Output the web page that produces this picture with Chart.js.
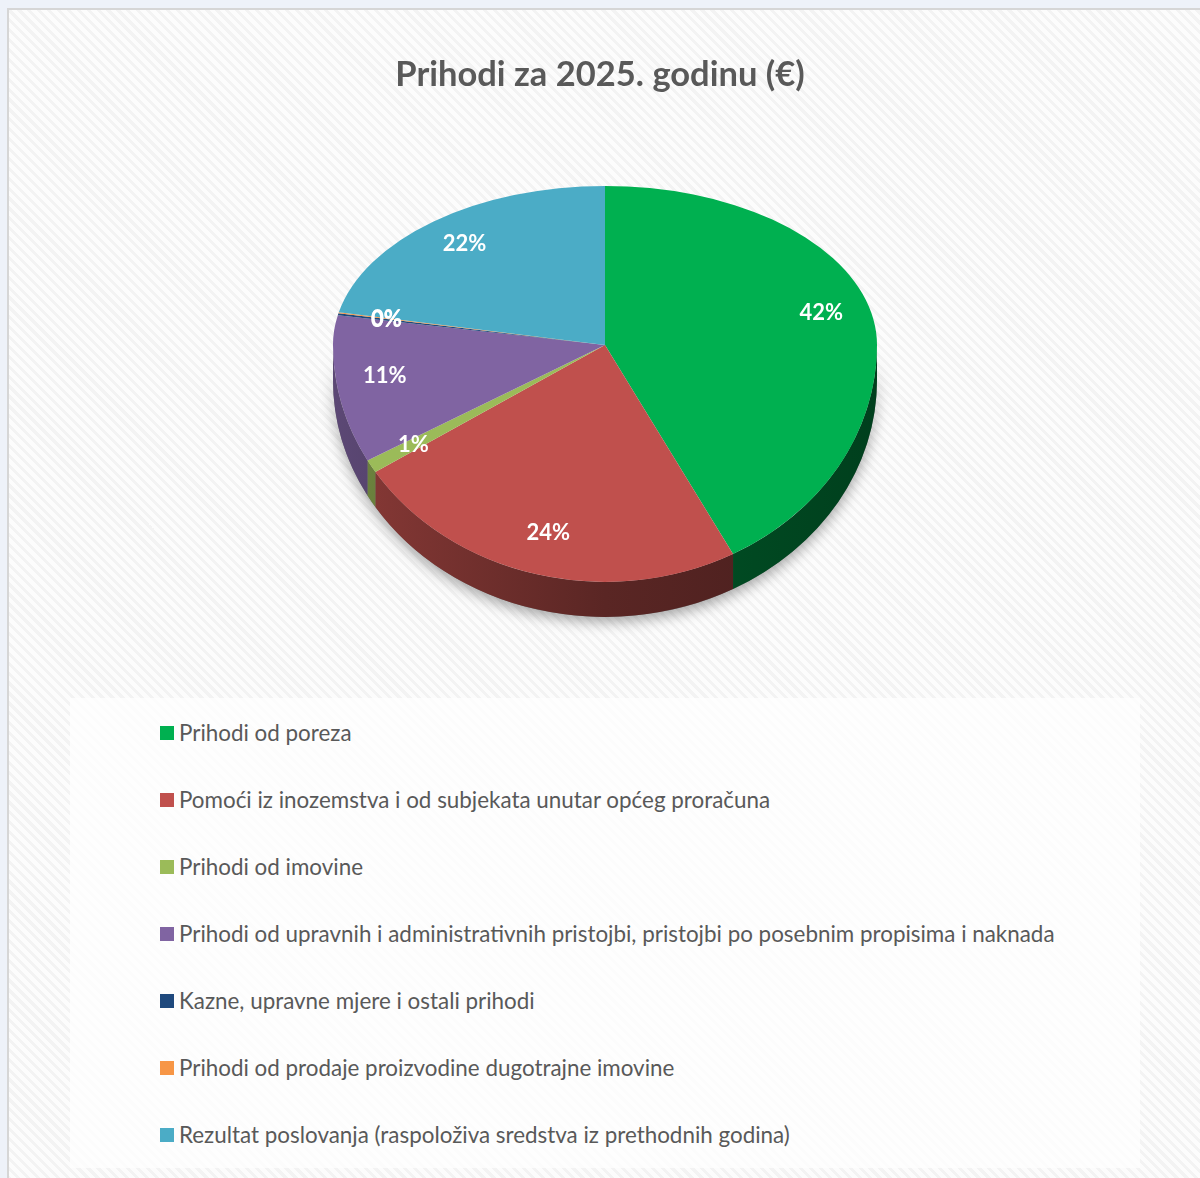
<!DOCTYPE html>
<html>
<head>
<meta charset="utf-8">
<script src="https://cdn.jsdelivr.net/npm/chart.js@4"></script>
<style>
  html, body { margin: 0; padding: 0; }
  body { width: 1200px; height: 1178px; background: #eef2f9; position: relative; overflow: hidden; font-family: Lato, "Noto Sans", sans-serif; }
  #panel {
    position: absolute; left: 7px; top: 8px; width: 1210px; height: 1190px;
    border: 2px solid #d6d6d6;
    background: repeating-linear-gradient(45deg, #f3f3f3 0px, #f3f3f3 3px, #fcfcfc 3px, #fcfcfc 7px);
  }
  #chartWrap { position: absolute; left: 0; top: 0; width: 1200px; height: 690px; }
  #legendBox {
    position: absolute; left: 70px; top: 698px; width: 1070px; height: 470px;
    background: rgba(255,255,255,0.75);
  }
  #legend { list-style: none; margin: 0; padding: 0; position: absolute; left: 90px; top: 19px; }
  #legend li { height: 67px; display: flex; align-items: flex-start; color: #595959; font-size: 22.4px; line-height: 32px; white-space: nowrap; }
  #legend li span.box { display: inline-block; width: 14px; height: 14px; margin: 9px 5px 0 0; }
</style>
</head>
<body>
<div id="panel"></div>
<div id="chartWrap"><canvas id="pie" width="1200" height="690"></canvas></div>
<div id="legendBox"><ul id="legend"></ul></div>
<script>
const categories = [
  "Prihodi od poreza",
  "Pomoći iz inozemstva i od subjekata unutar općeg proračuna",
  "Prihodi od imovine",
  "Prihodi od upravnih i administrativnih pristojbi, pristojbi po posebnim propisima i naknada",
  "Kazne, upravne mjere i ostali prihodi",
  "Prihodi od prodaje proizvodine dugotrajne imovine",
  "Rezultat poslovanja (raspoloživa sredstva iz prethodnih godina)"
];
const shares = [42.2, 23.8, 0.9, 11.1, 0.2, 0.1, 21.7];
const colors = ["#00B050", "#C0504D", "#9BBB59", "#8064A2", "#1F497D", "#F79646", "#4BACC6"];
const chartTitle = "Prihodi za 2025. godinu (€)";

// tilted pie: back half flatter than front half, like a perspective view
const CX = 605, CY = 345, RX = 272, K_BACK = 0.585, K_FRONT = 0.871, DEPTH = 35;

function rgb(hex, f) {
  const n = parseInt(hex.slice(1), 16);
  const r = Math.round(((n >> 16) & 255) * f), g = Math.round(((n >> 8) & 255) * f), b = Math.round((n & 255) * f);
  return `rgb(${r},${g},${b})`;
}

const tiltPlugin = {
  id: 'tilt',
  beforeDatasetsDraw(chart) {
    const ctx = chart.ctx;
    const arcs = chart.getDatasetMeta(0).data;
    const ry = RX * K_FRONT;
    // shadow under the pie
    ctx.save();
    ctx.shadowColor = 'rgba(0,0,0,0.35)';
    ctx.shadowBlur = 14;
    ctx.shadowOffsetY = 5;
    ctx.fillStyle = '#777';
    ctx.beginPath();
    ctx.ellipse(CX, CY, RX, ry, 0, 0, Math.PI, false);
    ctx.ellipse(CX, CY + DEPTH, RX, ry, 0, Math.PI, 0, true);
    ctx.closePath();
    ctx.fill();
    ctx.restore();
    // side walls of the front half
    arcs.forEach((arc, i) => {
      const a0 = Math.max(arc.startAngle, 0), a1 = Math.min(arc.endAngle, Math.PI);
      if (a1 <= a0) return;
      const grad = ctx.createLinearGradient(CX - RX, 0, CX + RX, 0);
      grad.addColorStop(0, rgb(colors[i], 0.72));
      grad.addColorStop(0.5, rgb(colors[i], 0.47));
      grad.addColorStop(1, rgb(colors[i], 0.36));
      ctx.fillStyle = grad;
      ctx.beginPath();
      ctx.ellipse(CX, CY, RX, ry, 0, a0, a1, false);
      ctx.ellipse(CX, CY + DEPTH, RX, ry, 0, a1, a0, true);
      ctx.closePath();
      ctx.fill();
    });
    // top face, drawn in two halves with different squash
    const c = arcs[0];
    [[0, CY + 0.5, K_BACK], [CY, chart.height, K_FRONT]].forEach(([y0, y1, k]) => {
      ctx.save();
      ctx.beginPath();
      ctx.rect(0, y0, chart.width, y1 - y0);
      ctx.clip();
      ctx.translate(CX, CY);
      ctx.scale(1, k);
      ctx.translate(-c.x, -c.y);
      arcs.forEach(a => a.draw(ctx));
      ctx.restore();
    });
    // percentage labels
    ctx.save();
    ctx.fillStyle = '#ffffff';
    ctx.font = 'bold 22px Lato, "Noto Sans", sans-serif';
    ctx.textAlign = 'center';
    ctx.textBaseline = 'middle';
    const total = shares.reduce((a, b) => a + b, 0);
    arcs.forEach((arc, i) => {
      const mid = (arc.startAngle + arc.endAngle) / 2;
      const r = arc.outerRadius * 0.82;
      const s = Math.sin(mid);
      const x = CX + r * Math.cos(mid);
      const y = CY + r * s * (s < 0 ? K_BACK : K_FRONT);
      ctx.fillText(Math.round(shares[i] / total * 100) + '%', x, y);
    });
    ctx.restore();
    return false;
  }
};

new Chart(document.getElementById('pie'), {
  type: 'pie',
  data: {
    labels: categories,
    datasets: [{ data: shares, backgroundColor: colors, borderWidth: 0, radius: RX }]
  },
  options: {
    responsive: false,
    animation: false,
    events: [],
    layout: { padding: 0 },
    plugins: {
      legend: { display: false },
      tooltip: { enabled: false },
      title: {
        display: true,
        text: chartTitle,
        color: '#595959',
        font: { family: 'Lato, "Noto Sans", sans-serif', size: 34.5, weight: 'bold' },
        padding: { top: 54, bottom: 0 }
      }
    }
  },
  plugins: [tiltPlugin]
});

const legend = document.getElementById('legend');
categories.forEach((name, i) => {
  const li = document.createElement('li');
  const box = document.createElement('span');
  box.className = 'box';
  box.style.background = colors[i];
  li.appendChild(box);
  li.appendChild(document.createTextNode(name));
  legend.appendChild(li);
});
</script>
</body>
</html>
